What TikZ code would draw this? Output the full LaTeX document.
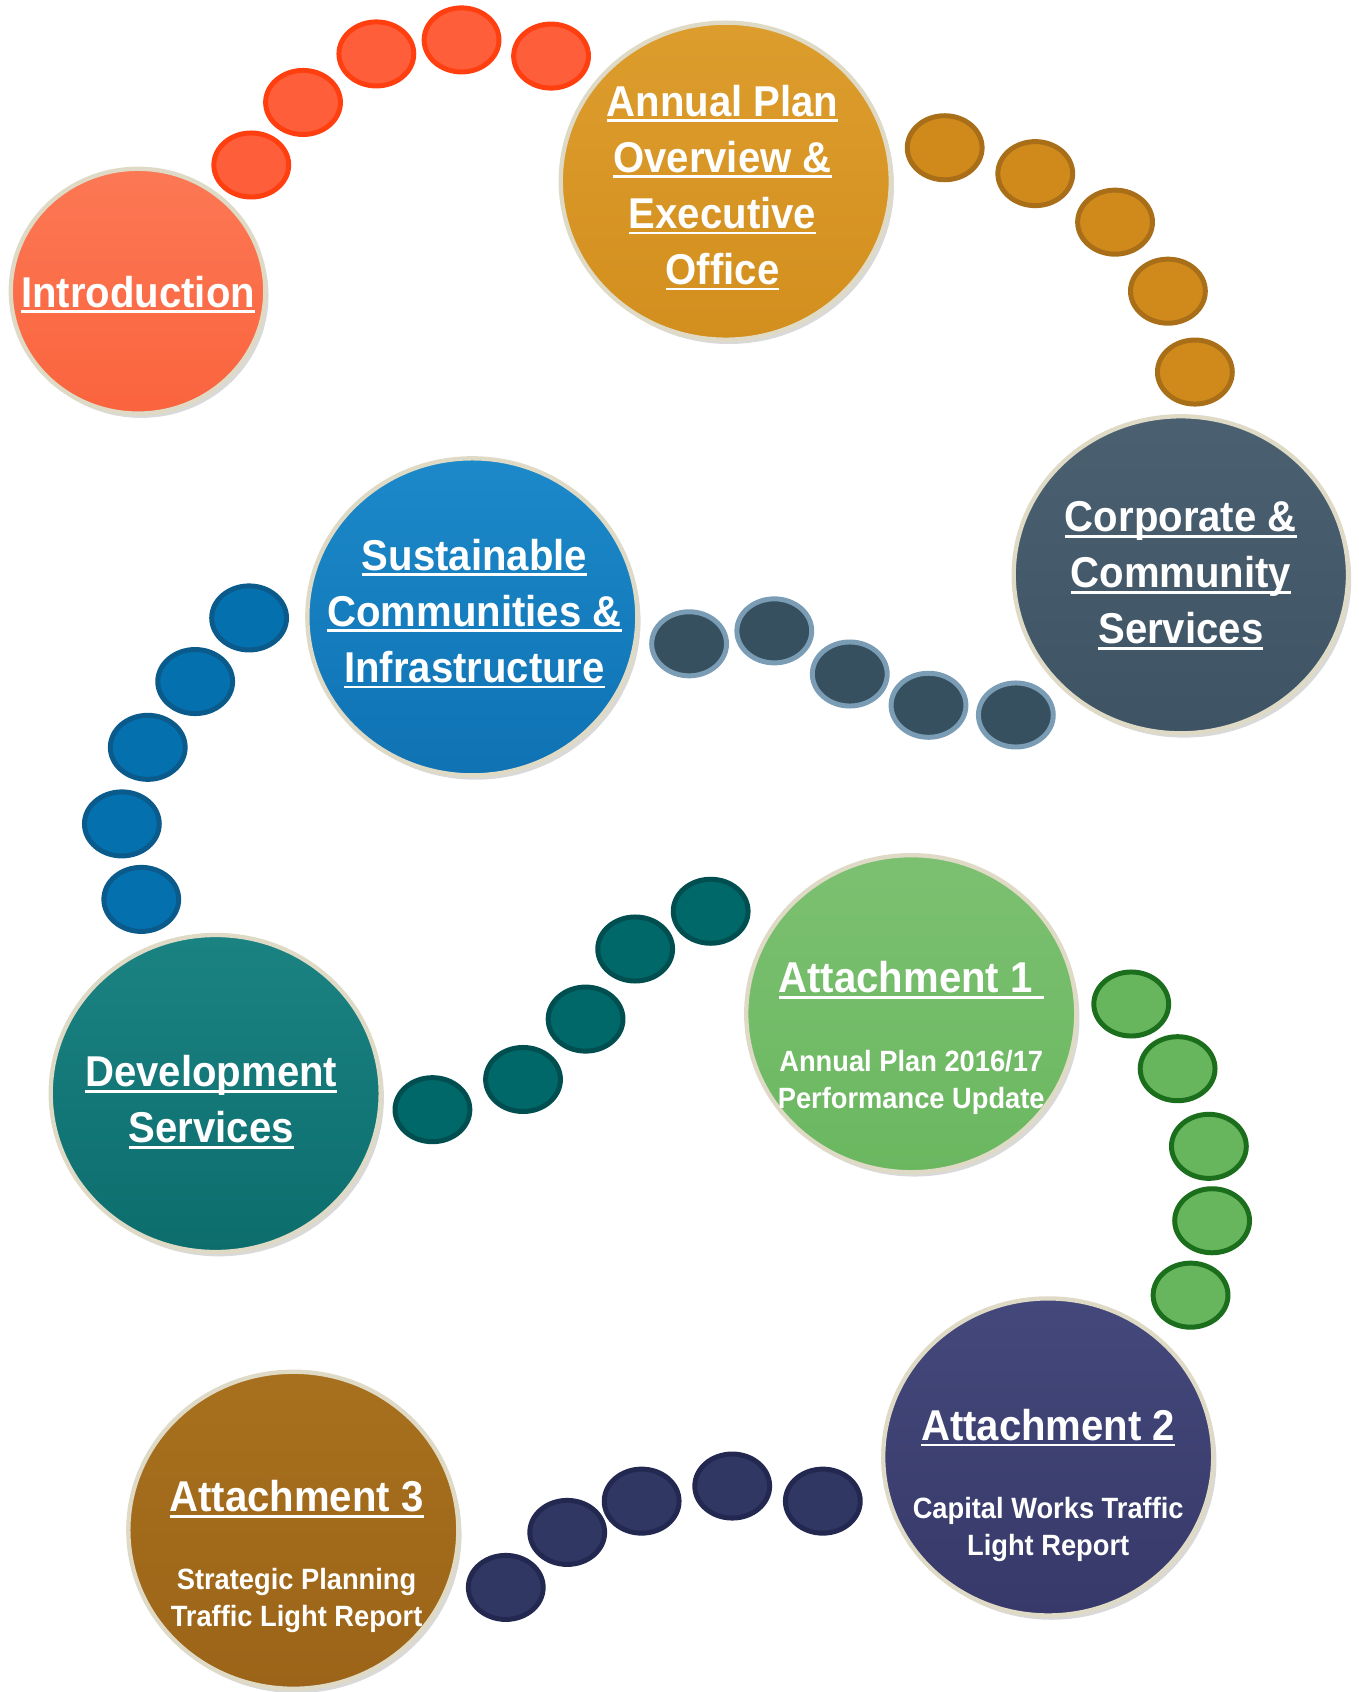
\documentclass[tikz,border=0pt]{standalone}
\usepackage{fontspec}
\setmainfont{Liberation Sans}[FakeStretch=0.93]
\usetikzlibrary{shapes.geometric,shadows}
\definecolor{ring}{HTML}{DEDAC6}
\definecolor{cIntro}{HTML}{FA643E}\definecolor{lIntro}{HTML}{FF9070}
\definecolor{cAnn}{HTML}{D38F1E}\definecolor{lAnn}{HTML}{E8AE40}
\definecolor{cCorp}{HTML}{3E5464}\definecolor{lCorp}{HTML}{5A7080}
\definecolor{cSus}{HTML}{0F72B3}\definecolor{lSus}{HTML}{2CA5E5}
\definecolor{cDev}{HTML}{0D6D6D}\definecolor{lDev}{HTML}{2C9C9C}
\definecolor{cAtA}{HTML}{6BB760}\definecolor{lAtA}{HTML}{90CC85}
\definecolor{cAtB}{HTML}{363969}\definecolor{lAtB}{HTML}{565A90}
\definecolor{cAtC}{HTML}{9C6418}\definecolor{lAtC}{HTML}{B58025}
\definecolor{fRed}{HTML}{FF5E3A}\definecolor{dRed}{HTML}{FF3F10}
\definecolor{fGold}{HTML}{D08A1C}\definecolor{dGold}{HTML}{A86E18}
\definecolor{fSlate}{HTML}{37505F}\definecolor{dSlate}{HTML}{7A9DB5}
\definecolor{fBlue}{HTML}{0570AE}\definecolor{dBlue}{HTML}{0A5A8C}
\definecolor{fTeal}{HTML}{006868}\definecolor{dTeal}{HTML}{004E50}
\definecolor{fGreen}{HTML}{67B55C}\definecolor{dGreen}{HTML}{1B6E1B}
\definecolor{fNavy}{HTML}{313763}\definecolor{dNavy}{HTML}{222850}
\newsavebox\ulbox
\newcommand\ulin[1]{\sbox\ulbox{#1}\rlap{\rule[-2.8pt]{\wd\ulbox}{1.3pt}}\usebox\ulbox}
\tikzset{
  big/.style 2 args={ellipse, inner sep=0pt, draw=ring, line width=2pt,
    minimum width=153pt, minimum height=147pt,
    top color=#2!45!#1, middle color=#1, bottom color=#1,
    drop shadow={opacity=0.3, shadow xshift=1.5pt, shadow yshift=-2pt}},
  ttl/.style={text=white, align=center, font=\bfseries\fontsize{20}{26}\selectfont, inner sep=0pt},
  subt/.style={text=white, align=center, font=\bfseries\fontsize{13.6}{17}\selectfont, inner sep=0pt},
  dotbase/.style={ellipse, inner sep=0pt, minimum width=34.7pt, minimum height=29.7pt, line width=2.3pt},
  reddot/.style={dotbase, fill=fRed, draw=dRed},
  golddot/.style={dotbase, fill=fGold, draw=dGold},
  slatedot/.style={dotbase, fill=fSlate, draw=dSlate},
  bluedot/.style={dotbase, fill=fBlue, draw=dBlue},
  tealdot/.style={dotbase, fill=fTeal, draw=dTeal},
  greendot/.style={dotbase, fill=fGreen, draw=dGreen},
  navydot/.style={dotbase, fill=fNavy, draw=dNavy},
}
\begin{document}
\begin{tikzpicture}[x=0.5pt,y=-0.5pt]
\useasboundingbox (0,0) rectangle (1260,1569);
% connector dots
\foreach \x/\y [count=\i] in {233/153,281/95,349/50,428/37,511/52}
  \node[reddot] (r\i) at (\x,\y) {};
\foreach \x/\y [count=\i] in {876/137,960/161,1034/206,1083/270,1108/345}
  \node[golddot] (g\i) at (\x,\y) {};
\foreach \x/\y [count=\i] in {639/597,718/585,788/625,861/654,942/663}
  \node[slatedot] (s\i) at (\x,\y) {};
\foreach \x/\y [count=\i] in {231/573,181/632,137/693,113/764,131/834}
  \node[bluedot] (b\i) at (\x,\y) {};
\foreach \x/\y [count=\i] in {401/1029,485/1001,543/945,589/880,659/845}
  \node[tealdot] (t\i) at (\x,\y) {};
\foreach \x/\y [count=\i] in {1049/931,1092/991,1121/1063,1124/1132,1104/1201}
  \node[greendot] (e\i) at (\x,\y) {};
\foreach \x/\y [count=\i] in {469/1472,526/1421,595/1392,679/1378,763/1392}
  \node[navydot] (n\i) at (\x,\y) {};
% big circles
\node[big={cIntro}{lIntro}, minimum width=118pt, minimum height=113.5pt] (intro) at (128,270) {};
\node[big={cAnn}{lAnn}] (annual) at (673,168) {};
\node[big={cCorp}{lCorp}, minimum width=155pt] (corp) at (1095,533) {};
\node[big={cSus}{lSus}] (sust) at (438,572) {};
\node[big={cDev}{lDev}] (dev) at (200,1014) {};
\node[big={cAtA}{lAtA}] (att1) at (845,940) {};
\node[big={cAtB}{lAtB}] (att2) at (972,1351) {};
\node[big={cAtC}{lAtC}] (att3) at (272,1419) {};
% texts
\node[ttl] (introT) at (128,273) {\ulin{Introduction}};
\node[ttl] (annualT) at (670,174) {\ulin{Annual Plan}\\\ulin{Overview \&}\\\ulin{Executive}\\\ulin{Office}};
\node[ttl] (corpT) at (1095,534) {\ulin{Corporate \&}\\\ulin{Community}\\\ulin{Services}};
\node[ttl] (sustT) at (440,569) {\ulin{Sustainable}\\\ulin{Communities \&}\\\ulin{Infrastructure}};
\node[ttl] (devT) at (196,1022) {\ulin{Development}\\\ulin{Services}};
\node[ttl] (att1T) at (845,909) {\ulin{Attachment 1 }};
\node[subt] (att1S) at (845,1004) {Annual Plan 2016/17\\Performance Update};
\node[ttl] (att2T) at (972,1324) {\ulin{Attachment 2}};
\node[subt] (att2S) at (972,1418) {Capital Works Traffic\\Light Report};
\node[ttl] (att3T) at (275,1390) {\ulin{Attachment 3}};
\node[subt] (att3S) at (275,1484) {Strategic Planning\\Traffic Light Report};
\end{tikzpicture}
\end{document}
